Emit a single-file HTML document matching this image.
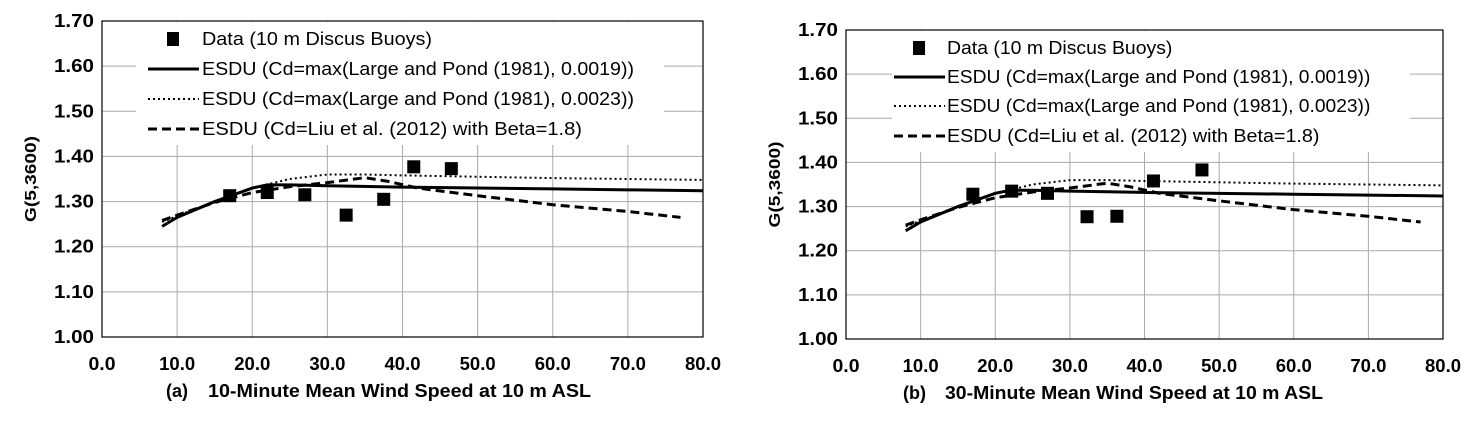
<!DOCTYPE html>
<html><head><meta charset="utf-8"><style>
body{margin:0;background:#fff}
svg{font-family:"Liberation Sans",sans-serif;font-weight:bold}
</style></head><body>
<svg id="s" width="1476" height="421" xmlns="http://www.w3.org/2000/svg"></svg>
<script>
const yTicks=[1.00,1.10,1.20,1.30,1.40,1.50,1.60,1.70];
const xTicks=[0,10,20,30,40,50,60,70,80];
const solidX=[8,10,15,20,22,25,30,40,50,60,70,80];
const solidY=[1.245,1.265,1.300,1.330,1.337,1.337,1.335,1.332,1.330,1.328,1.326,1.324];
const dotX=[8,10,15,20,25,30,35,40,50,60,70,80];
const dotY=[1.255,1.268,1.300,1.330,1.350,1.360,1.360,1.358,1.355,1.352,1.350,1.348];
const dashX=[8,10,15,20,25,30,35,38,42,50,60,70,77];
const dashY=[1.258,1.270,1.298,1.320,1.333,1.342,1.353,1.345,1.330,1.313,1.293,1.278,1.265];
const dataAX=[17,22,27,32.5,37.5,41.5,46.5];
const dataAY=[1.313,1.320,1.315,1.270,1.305,1.377,1.373];
const dataBX=[17,22.2,27,32.3,36.3,41.2,47.7];
const dataBY=[1.328,1.335,1.330,1.277,1.278,1.358,1.383];
const legendLabels=["Data (10 m Discus Buoys)","ESDU (Cd=max(Large and Pond (1981), 0.0019))","ESDU (Cd=max(Large and Pond (1981), 0.0023))","ESDU (Cd=Liu et al. (2012) with Beta=1.8)"];
const S=document.getElementById('s');const NS="http://www.w3.org/2000/svg";
function mk(t,a,p){const e=document.createElementNS(NS,t);for(const k in a)e.setAttribute(k,a[k]);(p||S).appendChild(e);return e;}
function chart(P){
 const g=mk('g',{});
 
 
 const X=v=>P.l+(v-0)/80*(P.r-P.l), Y=v=>P.b-(v-1)/0.7*(P.b-P.t);
 xTicks.forEach(v=>{const l=mk('line',{x1:X(v),x2:X(v),y1:P.t,y2:P.b,stroke:'#aaa','stroke-width':1},g);
  
  const s=v.toFixed(1);
  const t=mk('text',{x:X(v),y:P.b+33,'text-anchor':'middle','font-size':18,textLength:s.length*9,lengthAdjust:'spacingAndGlyphs'},g);t.textContent=s;
  });
 yTicks.forEach(v=>{const l=mk('line',{x1:P.l,x2:P.r,y1:Y(v),y2:Y(v),stroke:'#aaa','stroke-width':1},g);
  
  const t=mk('text',{x:P.l-8,y:Y(v)+6,'text-anchor':'end','font-size':18,textLength:40,lengthAdjust:'spacingAndGlyphs'},g);t.textContent=v.toFixed(2);
  });
 const lg=mk('rect',{x:P.lx,y:P.t+1,width:P.lw,height:P.lh,fill:'#fff'},g);
 
 const fr=mk('rect',{x:P.l,y:P.t,width:P.r-P.l,height:P.b-P.t,fill:'none',stroke:'#000','stroke-width':1.2},g);
 
 const line=(xs,ys,da,w,n)=>{const p=mk('polyline',{points:xs.map((x,i)=>X(x)+','+Y(ys[i])).join(' '),fill:'none',stroke:'#000','stroke-width':w,'stroke-dasharray':da},g);
  };
 line(dotX,dotY,'2 3',2,'series-ld0023-dotted');
 line(dashX,dashY,'9 5',3,'series-liu-dashed');
 line(solidX,solidY,'',3,'series-ld0019-solid');
 P.dx.forEach((x,i)=>{const r=mk('rect',{x:X(x)-6.5,y:Y(P.dy[i])-6.5,width:13,height:13,fill:'#000'},g);
  });
 legendLabels.forEach((s,i)=>{const y=P.ly[i];
  if(i==0){const m=mk('rect',{x:P.sx+19,y:y-7,width:12,height:14,fill:'#000'},g);}
  else{const m=mk('line',{x1:P.sx,x2:P.sx+51,y1:y,y2:y,stroke:'#000','stroke-width':i==2?2:3,'stroke-dasharray':i==1?'':i==2?'2 3':'9 5'},g);}
  const t=mk('text',{x:P.tx,y:y+6,'font-size':18,'font-weight':'normal',textLength:[230,432,432,380][i]*P.k,lengthAdjust:'spacingAndGlyphs'},g);t.textContent=s;
  });
 const yt=mk('text',{x:0,y:0,transform:`translate(${P.l-66},${(P.t+P.b)/2}) rotate(-90)`,'text-anchor':'middle','font-size':16,textLength:86,lengthAdjust:'spacingAndGlyphs'},g);yt.textContent='G(5,3600)';
 
 const a=mk('text',{x:P.ax,y:P.b+60,'font-size':18},g);a.textContent=P.al;
 
 const xt=mk('text',{x:P.ax+42,y:P.b+60,'font-size':18,textLength:P.xtl,lengthAdjust:'spacingAndGlyphs'},g);xt.textContent=P.xt;
 
}
chart({name:'chart-a',l:102,r:703,t:21,b:337,lx:136,lw:528,lh:123,ly:[39,69,99,129],sx:148,tx:202,k:1,dx:dataAX,dy:dataAY,ax:166,al:'(a)',xt:'10-Minute Mean Wind Speed at 10 m ASL',xtl:383});
chart({name:'chart-b',l:846,r:1443,t:30,b:339,lx:892,lw:518,lh:121,ly:[48,77,106,136],sx:894,tx:947,k:0.98,dx:dataBX,dy:dataBY,ax:903,al:'(b)',xt:'30-Minute Mean Wind Speed at 10 m ASL',xtl:378});
</script>
</body></html>
